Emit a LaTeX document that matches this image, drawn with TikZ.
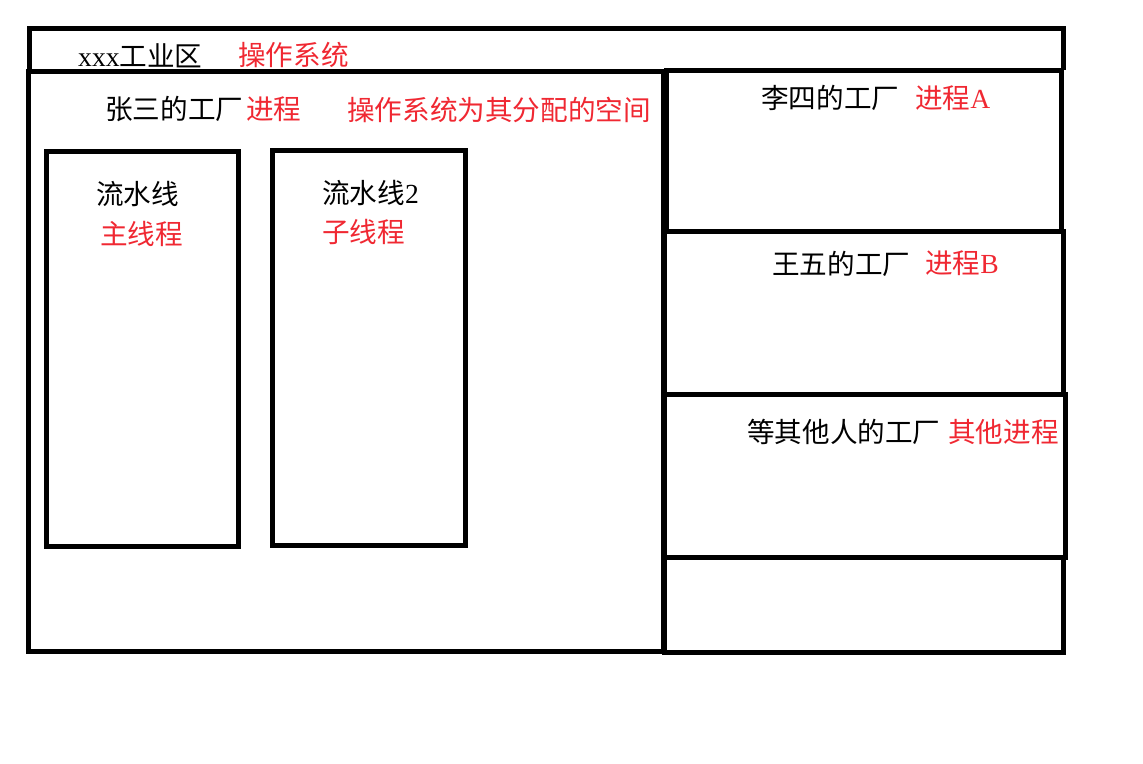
\documentclass[tikz,border=0pt]{standalone}
\usepackage{fontspec}
\newfontfamily\cjk{Noto Sans CJK SC}
\newfontfamily\lat{Liberation Serif}
\definecolor{labred}{RGB}{240,40,50}
\begin{document}
\begin{tikzpicture}[x=1pt,y=-1pt,
  frame/.style={draw=black,line width=5pt},
  txt/.style={anchor=west,inner sep=0pt,font=\cjk\fontsize{27.6}{30}\selectfont,text=black},
  rtxt/.style={txt,text=labred}]
\useasboundingbox[fill=white] (0,0) rectangle (1143,763);
% frames
\draw[frame] (29,70) -- (29,28) -- (1063,28) -- (1063,70);
\draw[frame] (28,71) rectangle (663,651);
\draw[frame] (666,70) rectangle (1061,231);
\draw[frame] (664,231) rectangle (1063,394);
\draw[frame] (664,394) rectangle (1065,557);
\draw[frame] (664,557) rectangle (1063,652);
\draw[frame] (46,151) rectangle (238,546);
\draw[frame] (272,150) rectangle (465,545);
% texts
\node[txt] (t1) at (78,56) {{\lat xxx}工业区};
\node[rtxt] (t2) at (238,55) {操作系统};
\node[txt] (z1) at (105,109) {张三的工厂};
\node[rtxt] (z2) at (246,109) {进程};
\node[rtxt] (z3) at (347,110) {操作系统为其分配的空间};
\node[txt] (l1) at (761,98) {李四的工厂};
\node[rtxt] (l2) at (915,98) {进程{\lat A}};
\node[txt] (w1) at (772,264) {王五的工厂};
\node[rtxt] (w2) at (925,263) {进程{\lat B}};
\node[txt] (o1) at (747,432) {等其他人的工厂};
\node[rtxt] (o2) at (948,432) {其他进程};
\node[txt] (p1) at (96,194) {流水线};
\node[rtxt] (p2) at (100,234) {主线程};
\node[txt] (q1) at (322,193) {流水线{\lat 2}};
\node[rtxt] (q2) at (322,232) {子线程};
\end{tikzpicture}
\end{document}
